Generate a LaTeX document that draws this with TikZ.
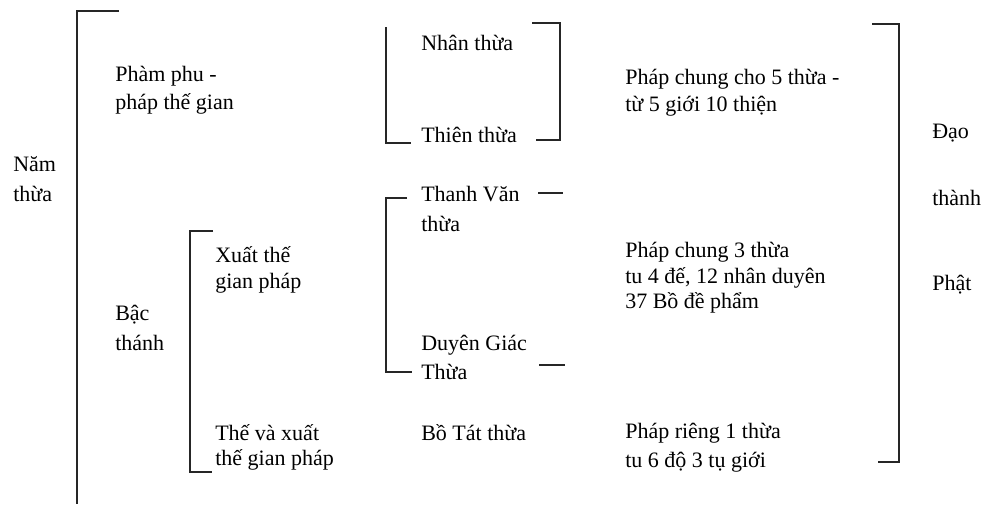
\documentclass[tikz,border=0pt]{standalone}
\usepackage{fontspec}
\setmainfont{Liberation Serif}
\newcommand{\fs}[1]{\fontsize{16.5}{#1}\selectfont}
\begin{document}
\begin{tikzpicture}[x=0.75pt,y=-0.75pt,
  txt/.style={anchor=west,inner sep=0pt,align=left,font=\fs{21}},
  bigbr/.style={draw=black!85,line width=1.3pt},
  smallbr/.style={draw=black!85,line width=1pt}]
\useasboundingbox (0,0) rectangle (984,504);
% text
\node[txt,font=\fs{22}] (nam) at (13,179) {Năm\\thừa};
\node[txt,font=\fs{21}] (pham) at (115,90) {Phàm phu -\\pháp thế gian};
\node[txt] (nhan) at (421,43) {Nhân thừa};
\node[txt] (thien) at (421,135) {Thiên thừa};
\node[txt,font=\fs{20.25}] (chung5) at (625,93) {Pháp chung cho 5 thừa -\\từ 5 giới 10 thiện};
\node[txt] (dao) at (932,133) {Đạo};
\node[txt] (thanh) at (932,198) {thành};
\node[txt] (phat) at (932,285) {Phật};
\node[txt,font=\fs{23}] (thanhvan) at (421,209) {Thanh Văn\\thừa};
\node[txt,font=\fs{19}] (xuat) at (215,270) {Xuất thế\\gian pháp};
\node[txt,font=\fs{22.5}] (bac) at (115,328) {Bậc\\thánh};
\node[txt,font=\fs{19}] (chung3) at (625,278) {Pháp chung 3 thừa\\tu 4 đế, 12 nhân duyên\\37 Bồ đề phẩm};
\node[txt,font=\fs{21.75}] (duyen) at (421,357.5) {Duyên Giác\\Thừa};
\node[txt,font=\fs{19}] (theva) at (215,447.5) {Thế và xuất\\thế gian pháp};
\node[txt] (botat) at (421,433) {Bồ Tát thừa};
\node[txt,font=\fs{21.75}] (rieng) at (625,447.5) {Pháp riêng 1 thừa\\tu 6 độ 3 tụ giới};
% brackets
\draw[bigbr] (119,11) -- (77,11) -- (77,504);
\draw[bigbr] (872,24) -- (899,24) -- (899,462) -- (878,462);
\draw[smallbr] (386,27) -- (386,143) -- (411,143);
\draw[smallbr] (532,23) -- (560,23) -- (560,140) -- (536,140);
\draw[smallbr] (407,198) -- (386,198) -- (386,372) -- (412,372);
\draw[smallbr] (538,193) -- (563,193);
\draw[smallbr] (539,365) -- (565,365);
\draw[smallbr] (213,231) -- (190,231) -- (190,472) -- (212,472);
\end{tikzpicture}
\end{document}
